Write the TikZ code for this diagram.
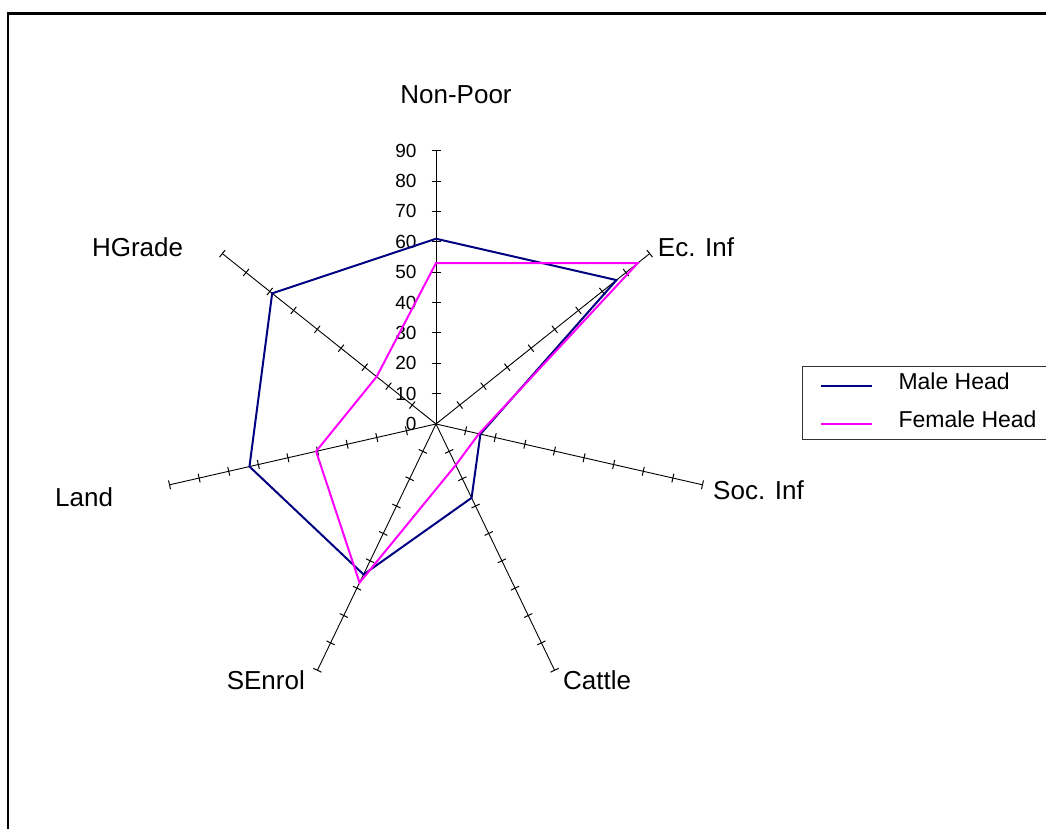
\documentclass[tikz,border=0pt]{standalone}
\usepackage{fontspec}
\setmainfont{Liberation Sans}
\usetikzlibrary{calc}
\definecolor{maleblue}{RGB}{0,0,128}
\definecolor{femalepink}{RGB}{255,0,255}
\begin{document}
\begin{tikzpicture}[x=1pt,y=1pt,
 axisline/.style={black, line width=0.9pt},
 tickmark/.style={black, line width=1pt},
 maleline/.style={maleblue, line width=2pt, line join=miter},
 femaleline/.style={femalepink, line width=2pt, line join=miter},
 catlabel/.style={font=\fontsize{26}{30}\selectfont, inner sep=0pt},
 numlabel/.style={font=\fontsize{19}{22}\selectfont, inner sep=0pt, anchor=east},
 legtext/.style={font=\fontsize{23}{27}\selectfont, inner sep=0pt, anchor=base west},
 legbox/.style={draw=black!80, line width=1pt}]
\useasboundingbox (0,0) rectangle (1046,829);
% outer frame (cut by the right and bottom edges)
\draw[line width=2.4pt] (8.2,0) -- (8.2,815.5) -- (1046,815.5);
\coordinate (c) at (436,405);
\def\unit{3.037}
% axes with ticks
\foreach \a [count=\i] in {90,38.571,-12.857,-64.286,-115.714,-167.143,141.429} {
  \coordinate (ax\i) at ($(c)+(\a:273.3)$);
  \draw[axisline] (c) -- (ax\i);
  \foreach \k in {1,...,9}
    \draw[tickmark] ($(c)+(\a:\k*30.37)+(\a+90:4.5)$) -- ($(c)+(\a:\k*30.37)+(\a-90:4.5)$);
}
% scale numbers
\foreach \k in {0,...,9} {
  \pgfmathtruncatemacro{\t}{\k*10}
  \node[numlabel] (n\k) at (416.7,405+\k*30.37) {\t};
}
% category labels
\node[catlabel, anchor=base] (lnp) at (456,725.7) {Non-Poor};
\node[catlabel, anchor=base west] (lec) at (657.7,572.3) {Ec. Inf};
\node[catlabel, anchor=base west] (lsoc) at (713,329.4) {Soc. Inf};
\node[catlabel, anchor=base west] (lcat) at (563,139) {Cattle};
\node[catlabel, anchor=base east] (lsen) at (305,139) {SEnrol};
\node[catlabel, anchor=base west] (lland) at (55,322.3) {Land};
\node[catlabel, anchor=base east] (lhg) at (183.3,572.3) {HGrade};
% data points
\foreach \a/\v [count=\i] in {90/61,38.571/76,-12.857/15,-64.286/27,-115.714/55,-167.143/63,141.429/69}
  \coordinate (m\i) at ($(c)+(\a:\v*\unit)$);
\foreach \a/\v [count=\i] in {90/53,38.571/85,-12.857/14.5,-64.286/15,-115.714/58,-167.143/40.5,141.429/25}
  \coordinate (f\i) at ($(c)+(\a:\v*\unit)$);
\draw[maleline] (m1) -- (m2) -- (m3) -- (m4) -- (m5) -- (m6) -- (m7) -- cycle;
\draw[femaleline] (f1) -- (f2) -- (f3) -- (f4) -- (f5) -- (f6) -- (f7) -- cycle;
% legend
\draw[legbox] (1047,462.3) -- (802.3,462.3) -- (802.3,389.7) -- (1047,389.7);
\coordinate (lm1) at (820.7,443);
\coordinate (lm2) at (872.3,443);
\coordinate (lf1) at (820.7,404.7);
\coordinate (lf2) at (872.3,404.7);
\draw[maleblue, line width=1.6pt] (lm1) -- (lm2);
\draw[femalepink, line width=1.6pt] (lf1) -- (lf2);
\node[legtext] (tm) at (898.3,439.7) {Male Head};
\node[legtext] (tf) at (898.3,401.7) {Female Head};
\end{tikzpicture}
\end{document}
